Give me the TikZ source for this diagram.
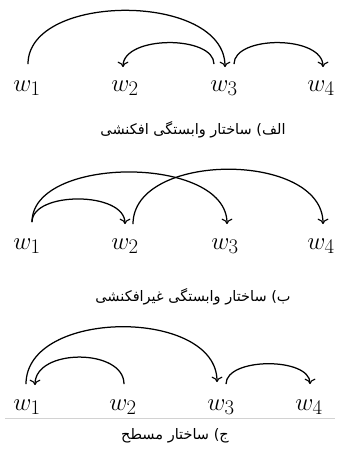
\documentclass[tikz,border=0pt]{standalone}
\usepackage{fontspec}
\TeXXeTstate=1
\newfontfamily\persianfont[Script=Arabic]{DejaVu Sans}
\usetikzlibrary{arrows.meta,calc}
\tikzset{
  word/.style={font=\fontsize{31}{33}\selectfont, inner sep=0pt, anchor=base},
  dep/.style={line width=1.25pt, -{To[length=5.5pt,width=11pt,line width=1.1pt]}},
  caption/.style={font=\persianfont\fontsize{14.5}{18}\selectfont, inner sep=0pt},
}
\begin{document}
\begin{tikzpicture}[x=1pt,y=-1pt]
\useasboundingbox (0,0) rectangle (339,451);
% panel 1
\node[word] (a1) at (27,91) {$w_1$};
\node[word] (a2) at (125,91) {$w_2$};
\node[word] (a3) at (224,91) {$w_3$};
\node[word] (a4) at (321,91) {$w_4$};
\draw[dep] ($(a1.north)+(1,-16)$) .. controls +(0,-72) and +(0,-75) .. ($(a3.north)+(1,-13)$);
\draw[dep] ($(a3.north)+(-10,-16)$) .. controls +(0,-29) and +(0,-32) .. ($(a2.north)+(-2,-13)$);
\draw[dep] ($(a3.north)+(10,-16)$) .. controls +(0,-29) and +(0,-32) .. ($(a4.north)+(2,-13)$);
\node[caption] (t1) at (193,130) {\beginR الف) ساختار وابستگی افکنشی\endR};
% panel 2
\node[word] (b1) at (27,249) {$w_1$};
\node[word] (b2) at (125,249) {$w_2$};
\node[word] (b3) at (225,249) {$w_3$};
\node[word] (b4) at (321,249) {$w_4$};
\draw[dep] ($(b1.north)+(5,-16)$) .. controls +(0,-31) and +(0,-33) .. ($(b2.north)+(0,-14)$);
\draw[dep] ($(b1.north)+(5,-16)$) .. controls +(0,-67) and +(0,-69) .. ($(b3.north)+(2,-14)$);
\draw[dep] ($(b2.north)+(8,-14)$) .. controls +(0,-73) and +(0,-73) .. ($(b4.north)+(2,-14)$);
\node[caption] (t2) at (193,297) {\beginR ب) ساختار وابستگی غیرافکنشی\endR};
% panel 3
\node[word] (c1) at (27,410) {$w_1$};
\node[word] (c2) at (123,410) {$w_2$};
\node[word] (c3) at (221,410) {$w_3$};
\node[word] (c4) at (309,410) {$w_4$};
\draw[dep] ($(c1.north)+(-1,-15)$) .. controls +(0,-76) and +(0,-74) .. ($(c3.north)+(-4,-17)$);
\draw[dep] ($(c2.north)+(1,-15)$) .. controls +(0,-36) and +(0,-37) .. ($(c1.north)+(8,-14)$);
\draw[dep] ($(c3.north)+(5,-15)$) .. controls +(0,-27) and +(0,-27) .. ($(c4.north)+(1,-15)$);
\coordinate (l1) at (5,418);
\coordinate (l2) at (335,418);
\draw[gray!35, line width=0.7pt] (l1) -- (l2);
\node[caption] (t3) at (175,436) {\beginR ج) ساختار مسطح\endR};
\end{tikzpicture}
\end{document}
